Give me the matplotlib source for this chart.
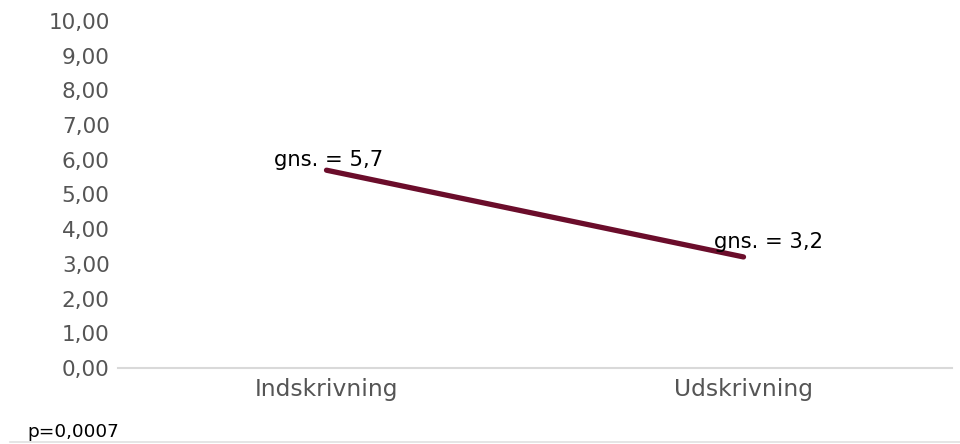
# Line chart: mean score at admission vs discharge

import matplotlib.pyplot as plt

# Data
categories = ['Indskrivning', 'Udskrivning']
means = [5.7, 3.2]
mean_labels = ['gns. = 5,7', 'gns. = 3,2']
y_ticks = [0, 1, 2, 3, 4, 5, 6, 7, 8, 9, 10]
p_text = 'p=0,0007'

fig = plt.figure(figsize=(9.6, 4.44), dpi=100)
ax = fig.add_axes([0.1229, 0.1712, 0.8688, 0.7815])

x = list(range(len(categories)))
ax.plot(x, means, color='#6b0d2b', linewidth=3.8, solid_capstyle='round')

# mean labels, offsets in points relative to the data point
offsets = [(-38, 7), (-21, 11)]
for xi, yi, lab, off in zip(x, means, mean_labels, offsets):
    ax.annotate(lab, (xi, yi), xytext=off, textcoords='offset points',
                ha='left', va='center', fontsize=15.2, color='black')

ax.set_xlim(-0.5, 1.5)
ax.set_ylim(0, 10)
ax.set_xticks(x)
ax.set_xticklabels(categories)
ax.set_yticks(y_ticks)
ax.set_yticklabels([f'{v:.2f}'.replace('.', ',') for v in y_ticks])

ax.tick_params(axis='both', length=0, colors='#555555')
ax.tick_params(axis='y', pad=6, labelsize=15.5)
ax.tick_params(axis='x', pad=7, labelsize=16.8)

for side in ['top', 'right', 'left']:
    ax.spines[side].set_visible(False)
ax.spines['bottom'].set_color('#d9d9d9')
ax.spines['bottom'].set_linewidth(1.5)

# p-value and bottom rule
fig.text(27 / 960, 1 - 432 / 444, p_text, fontsize=13.3, color='black',
         ha='left', va='center')
fig.add_artist(plt.Line2D([10 / 960, 1], [1 - 442 / 444] * 2,
                          color='#e0e0e0', linewidth=1.2))

fig.savefig('out.png', dpi=100)
